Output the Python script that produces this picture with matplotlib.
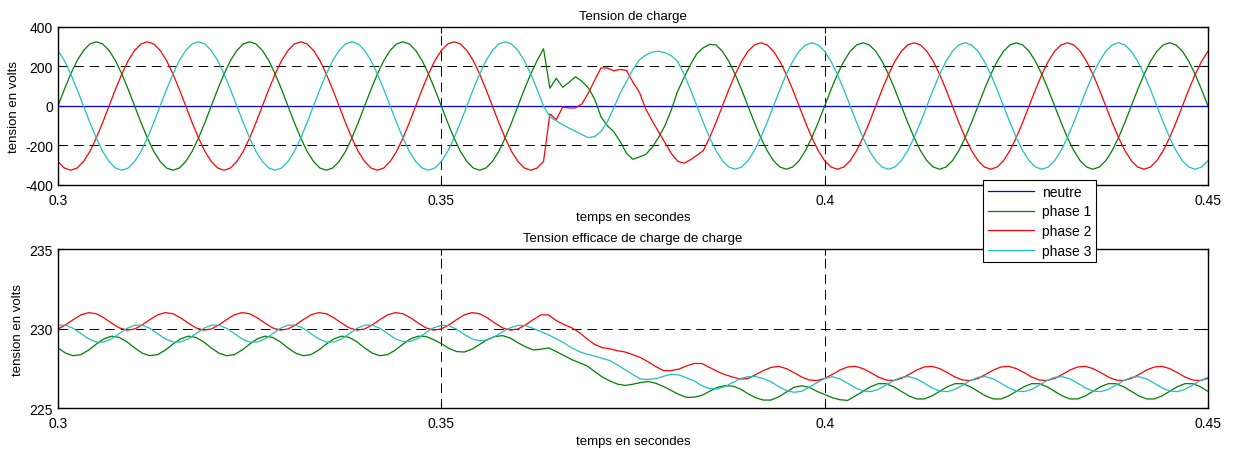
import numpy as np
import matplotlib
matplotlib.use('Agg')
import matplotlib.pyplot as plt

plt.rcParams['font.family'] = ['Liberation Sans', 'DejaVu Sans']
plt.rcParams['font.size'] = 10
plt.rcParams['axes.unicode_minus'] = False

# instantaneous load voltages (V), one sample every 1/1200 s from 0.3 to 0.45 s
phase1 = [
    0, 84, 162, 230, 281, 314, 325, 314, 281, 230, 162, 84, 0, -84, -162, -230, -281, -314, -325, -314, -281, -230, -162, -84,
    0, 84, 162, 230, 281, 314, 325, 314, 281, 230, 162, 84, 0, -84, -162, -230, -281, -314, -325, -314, -281, -230, -162, -84,
    0, 84, 162, 230, 281, 314, 325, 314, 281, 230, 162, 84, 0, -84, -162, -230, -281, -314, -325, -314, -281, -230, -162, -84,
    0, 84, 162, 230, 290,
    90, 140, 95, 120, 148, 125, 93, 35, -55, -100, -130, -180, -240, -270, -258, -245, -210, -160, -100, -20, 75, 145, 210, 265, 295, 312,
    309, 277, 226, 160, 83, 0, -83, -160, -226, -277, -309, -320, -309, -277, -226, -160, -83,
    0, 83, 160, 226, 277, 309, 320, 309, 277, 226, 160, 83, 0, -83, -160, -226, -277, -309, -320, -309, -277, -226, -160, -83,
    0, 83, 160, 226, 277, 309, 320, 309, 277, 226, 160, 83, 0, -83, -160, -226, -277, -309, -320, -309, -277, -226, -160, -83,
    0, 83, 160, 226, 277, 309, 320, 309, 277, 226, 160, 83, 0,
]
phase2 = [
    -281, -314, -325, -314, -281, -230, -162, -84, 0, 84, 162, 230, 281, 314, 325, 314, 281, 230, 162, 84, 0, -84, -162, -230,
    -281, -314, -325, -314, -281, -230, -162, -84, 0, 84, 162, 230, 281, 314, 325, 314, 281, 230, 162, 84, 0, -84, -162, -230,
    -281, -314, -325, -314, -281, -230, -162, -84, 0, 84, 162, 230, 281, 314, 325, 314, 281, 230, 162, 84, 0, -84, -162, -230,
    -281, -314, -325, -314, -281,
    -40, -70, -5, -10, -10, 10, 65, 130, 193, 192, 178, 185, 180, 120, 70, -15, -75, -130, -185, -240, -280, -290, -272, -250,
    -226, -160, -83,
    0, 83, 160, 226, 277, 309, 320, 309, 277, 226, 160, 83, 0, -83, -160, -226, -277, -309, -320, -309, -277, -226, -160, -83,
    0, 83, 160, 226, 277, 309, 320, 309, 277, 226, 160, 83, 0, -83, -160, -226, -277, -309, -320, -309, -277, -226, -160, -83,
    0, 83, 160, 226, 277, 309, 320, 309, 277, 226, 160, 83, 0, -83, -160, -226, -277, -309, -320, -309, -277, -226, -160, -83,
    0, 83, 160, 226, 277,
]
phase3 = [
    281, 230, 162, 84, 0, -84, -162, -230, -281, -314, -325, -314, -281, -230, -162, -84, 0, 84, 162, 230, 281, 314, 325, 314,
    281, 230, 162, 84, 0, -84, -162, -230, -281, -314, -325, -314, -281, -230, -162, -84, 0, 84, 162, 230, 281, 314, 325, 314,
    281, 230, 162, 84, 0, -84, -162, -230, -281, -314, -325, -314, -281, -230, -162, -84, 0, 84, 162, 230, 281, 314, 325, 314,
    281, 230, 162, 84, 0,
    -55, -75, -95, -112, -128, -145, -160, -155, -128, -80, -10, 65, 125, 185, 233, 258, 273, 277, 270, 255,
    226, 160, 83, 0, -83, -160, -226, -277, -309, -320, -309, -277, -226, -160, -83,
    0, 83, 160, 226, 277, 309, 320, 309, 277, 226, 160, 83, 0, -83, -160, -226, -277, -309, -320, -309, -277, -226, -160, -83,
    0, 83, 160, 226, 277, 309, 320, 309, 277, 226, 160, 83, 0, -83, -160, -226, -277, -309, -320, -309, -277, -226, -160, -83,
    0, 83, 160, 226, 277, 309, 320, 309, 277, 226, 160, 83, 0, -83, -160, -226, -277, -309, -320, -309, -277,
]
neutre_t = [0.3, 0.45]
neutre = [0, 0]

# rms load voltages (V), one sample every 1 ms
rms1 = [
    228.78, 228.45, 228.29, 228.36, 228.64, 229.02, 229.35, 229.52, 229.44, 229.16,
    228.78, 228.45, 228.29, 228.36, 228.64, 229.02, 229.35, 229.52, 229.44, 229.16,
    228.78, 228.45, 228.29, 228.36, 228.64, 229.02, 229.35, 229.52, 229.44, 229.16,
    228.78, 228.45, 228.29, 228.36, 228.64, 229.02, 229.35, 229.52, 229.44, 229.16,
    228.78, 228.45, 228.29, 228.36, 228.64, 229.02, 229.35, 229.52,
    229.5, 229.3, 229.05, 228.75, 228.55, 228.52, 228.7, 229.0, 229.3, 229.5, 229.55, 229.4,
    229.1, 228.85, 228.65, 228.7, 228.78, 228.55, 228.3, 228.05, 227.85, 227.65, 227.3, 226.95,
    226.7, 226.5, 226.42, 226.5, 226.6, 226.67, 226.55, 226.35, 226.1, 225.85, 225.67, 225.68,
    225.8, 226.05, 226.3, 226.4, 226.38, 226.2, 225.9, 225.65, 225.5, 225.5, 225.7, 226.0,
    226.3, 226.4, 226.3, 226.05, 225.85, 225.65, 225.52, 225.48,
    225.76, 226.05, 226.34, 226.53, 226.53, 226.34, 226.05, 225.76, 225.57, 225.57,
    225.76, 226.05, 226.34, 226.53, 226.53, 226.34, 226.05, 225.76, 225.57, 225.57,
    225.76, 226.05, 226.34, 226.53, 226.53, 226.34, 226.05, 225.76, 225.57, 225.57,
    225.76, 226.05, 226.34, 226.53, 226.53, 226.34, 226.05, 225.76, 225.57, 225.57,
    225.76, 226.05, 226.34, 226.53, 226.53, 226.34, 226.05,
]
rms2 = [
    229.97, 230.23, 230.56, 230.86, 231.0, 230.93, 230.67, 230.34, 230.04, 229.9,
    229.97, 230.23, 230.56, 230.86, 231.0, 230.93, 230.67, 230.34, 230.04, 229.9,
    229.97, 230.23, 230.56, 230.86, 231.0, 230.93, 230.67, 230.34, 230.04, 229.9,
    229.97, 230.23, 230.56, 230.86, 231.0, 230.93, 230.67, 230.34, 230.04, 229.9,
    229.97, 230.23, 230.56, 230.86, 231.0, 230.93, 230.67, 230.34, 230.04, 229.9,
    229.97, 230.23, 230.56, 230.86, 231.0, 230.93, 230.67, 230.34, 230.04, 229.9,
    229.97, 230.23, 230.56,
    230.86, 230.85, 230.5, 230.25, 230.05, 229.75, 229.35, 229.0, 228.8, 228.72, 228.6,
    228.52, 228.35, 228.17, 227.9, 227.6, 227.35, 227.35, 227.45, 227.65, 227.8, 227.8,
    227.55, 227.3, 227.1, 226.95, 226.82, 226.85, 227.1, 227.35, 227.55,
    227.62, 227.48, 227.23, 226.95, 226.76, 226.73, 226.86, 227.11, 227.39, 227.58,
    227.62, 227.48, 227.23, 226.95, 226.76, 226.73, 226.86, 227.11, 227.39, 227.58,
    227.62, 227.48, 227.23, 226.95, 226.76, 226.73, 226.86, 227.11, 227.39, 227.58,
    227.62, 227.48, 227.23, 226.95, 226.76, 226.73, 226.86, 227.11, 227.39, 227.58,
    227.62, 227.48, 227.23, 226.95, 226.76, 226.73, 226.86, 227.11, 227.39, 227.58,
    227.62, 227.48, 227.23, 226.95, 226.76, 226.73, 226.86,
]
rms3 = [
    230.21, 230.21, 230.01, 229.68, 229.35, 229.15, 229.15, 229.35, 229.68, 230.01,
    230.21, 230.21, 230.01, 229.68, 229.35, 229.15, 229.15, 229.35, 229.68, 230.01,
    230.21, 230.21, 230.01, 229.68, 229.35, 229.15, 229.15, 229.35, 229.68, 230.01,
    230.21, 230.21, 230.01, 229.68, 229.35, 229.15, 229.15, 229.35, 229.68, 230.01,
    230.21, 230.21, 230.01, 229.68, 229.35, 229.18, 229.2, 229.38,
    229.75, 230.05, 230.2, 230.18, 229.95, 229.62, 229.35, 229.23, 229.28, 229.5, 229.8,
    230.05, 230.2, 230.18, 230.0, 229.8, 229.6, 229.35, 229.1, 228.78, 228.55, 228.38,
    228.27, 228.12, 227.98, 227.7, 227.4, 227.1, 226.82, 226.8, 226.85, 227.0, 227.12,
    227.08, 226.9, 226.7, 226.4, 226.22, 226.2, 226.35, 226.6, 226.85, 226.97, 226.98,
    226.85, 226.65, 226.35, 226.1, 225.99, 226.05, 226.3, 226.6, 226.85,
    226.97, 226.83, 226.56, 226.27, 226.07, 226.03, 226.17, 226.44, 226.73, 226.93,
    226.97, 226.83, 226.56, 226.27, 226.07, 226.03, 226.17, 226.44, 226.73, 226.93,
    226.97, 226.83, 226.56, 226.27, 226.07, 226.03, 226.17, 226.44, 226.73, 226.93,
    226.97, 226.83, 226.56, 226.27, 226.07, 226.03, 226.17, 226.44, 226.73, 226.93,
    226.97, 226.83, 226.56, 226.27, 226.07, 226.03, 226.17, 226.44, 226.73, 226.93,
]

t_inst = np.linspace(0.3, 0.45, len(phase1))
t_rms = np.linspace(0.3, 0.45, len(rms1))

xticks = [0.3, 0.35, 0.4, 0.45]
xticklabels = ['0.3', '0.35', '0.4', '0.45']

c_neutre = '#0000ff'
c_ph1 = '#008000'
c_ph2 = '#ff0000'
c_ph3 = '#20c0c0'
lw = 0.9

fig = plt.figure(figsize=(12.33, 4.52), dpi=100)
ax1 = fig.add_axes([0.047, 0.5885, 0.9327, 0.3496])
ax2 = fig.add_axes([0.047, 0.0951, 0.9327, 0.3518])

l0, = ax1.plot(neutre_t, neutre, color=c_neutre, lw=lw, label='neutre')
l1, = ax1.plot(t_inst, phase1, color=c_ph1, lw=lw, label='phase 1')
l2, = ax1.plot(t_inst, phase2, color=c_ph2, lw=lw, label='phase 2')
l3, = ax1.plot(t_inst, phase3, color=c_ph3, lw=lw, label='phase 3')
ax1.set_ylim(-400, 400)
ax1.set_yticks([-400, -200, 0, 200, 400])
ax1.set_title('Tension de charge', fontsize=9.5, pad=6)

ax2.plot(t_rms, rms1, color=c_ph1, lw=lw)
ax2.plot(t_rms, rms2, color=c_ph2, lw=lw)
ax2.plot(t_rms, rms3, color=c_ph3, lw=lw)
ax2.set_ylim(225, 235)
ax2.set_yticks([225, 230, 235])
ax2.set_title('Tension efficace de charge de charge', fontsize=9.5, pad=6)

for ax in (ax1, ax2):
    ax.set_xlim(0.3, 0.45)
    ax.set_xticks(xticks)
    ax.set_xticklabels(xticklabels)
    ax.set_xlabel('temps en secondes', fontsize=9.5, labelpad=3)
    ax.set_ylabel('tension en volts', fontsize=9.5, labelpad=4)
    ax.grid(True, color='k', linestyle=(0, (10, 6)), linewidth=0.7)
    ax.set_axisbelow(True)
    ax.tick_params(direction='in', top=True, right=True, length=4, labelsize=10)
    ax.tick_params(axis='x', pad=6)
    for s in ax.spines.values():
        s.set_linewidth(1.0)

leg = fig.legend([l0, l1, l2, l3], ['neutre', 'phase 1', 'phase 2', 'phase 3'],
                 loc='upper left', bbox_to_anchor=(983 / 1233, 1 - 181 / 452),
                 fancybox=False, edgecolor='k', framealpha=1, handlelength=3.3,
                 borderaxespad=0, fontsize=10, labelspacing=0.4, borderpad=0.35,
                 handletextpad=0.6)
leg.get_frame().set_linewidth(0.8)

plt.savefig('out.png', dpi=100)
